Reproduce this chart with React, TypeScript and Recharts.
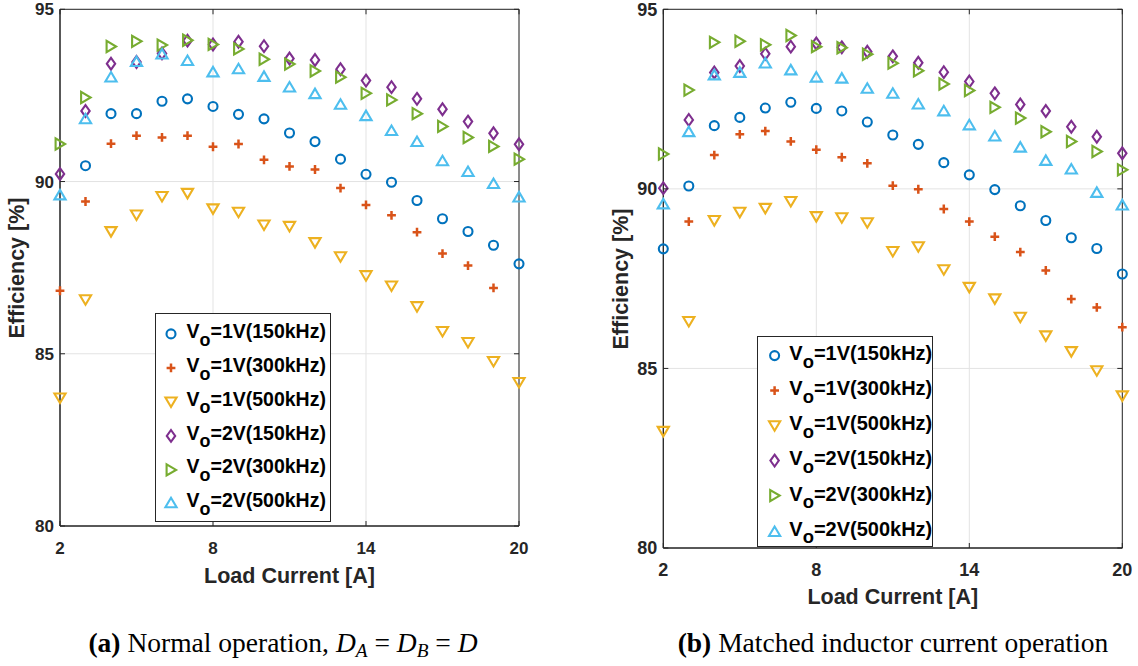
import React from 'react';
import { ScatterChart, Scatter, XAxis, YAxis, CartesianGrid, Legend, ReferenceArea } from 'recharts';

// ---------- data ----------
const loadCurrent = [2, 3, 4, 5, 6, 7, 8, 9, 10, 11, 12, 13, 14, 15, 16, 17, 18, 19, 20];
const xTicks = [2, 8, 14, 20];
const yTicks = [80, 85, 90, 95];
const seriesLabels = ['1V(150kHz)', '1V(300kHz)', '1V(500kHz)', '2V(150kHz)', '2V(300kHz)', '2V(500kHz)'];
const seriesColors = ['#0072BD', '#D95319', '#EDB120', '#7E2F8E', '#77AC30', '#4DBEEE'];
const markerKinds = ['circle', 'plus', 'down', 'diamond', 'right', 'up'];

// (a) Normal operation
const normalV1f150 = [null, 90.46, 91.97, 91.97, 92.33, 92.40, 92.18, 91.95, 91.82, 91.41, 91.16, 90.65, 90.21, 89.98, 89.45, 88.92, 88.55, 88.15, 87.61];
const normalV1f300 = [86.83, 89.42, 91.10, 91.33, 91.28, 91.33, 91.01, 91.09, 90.63, 90.44, 90.35, 89.81, 89.32, 89.02, 88.53, 87.91, 87.56, 86.91, null];
const normalV1f500 = [83.72, 86.57, 88.55, 89.03, 89.57, 89.66, 89.21, 89.11, 88.74, 88.70, 88.23, 87.82, 87.27, 86.97, 86.37, 85.65, 85.33, 84.78, 84.17];
const normalV2f150 = [90.22, 92.05, 93.42, 93.47, 93.72, 94.09, 93.98, 94.06, 93.93, 93.57, 93.53, 93.26, 92.93, 92.74, 92.40, 92.10, 91.74, 91.40, 91.08];
const normalV2f300 = [91.09, 92.44, 93.92, 94.07, 93.96, 94.10, 93.98, 93.85, 93.55, 93.41, 93.21, 93.03, 92.56, 92.37, 91.97, 91.60, 91.28, 91.02, 90.65];
const normalV2f500 = [89.61, 91.82, 93.03, 93.48, 93.70, 93.51, 93.18, 93.27, 93.05, 92.74, 92.55, 92.24, 91.91, 91.48, 91.16, 90.60, 90.29, 89.94, 89.55];

// (b) Matched inductor current operation
const matchedV1f150 = [88.33, 90.08, 91.76, 91.99, 92.25, 92.41, 92.24, 92.17, 91.86, 91.50, 91.24, 90.73, 90.39, 89.98, 89.53, 89.12, 88.64, 88.34, 87.63];
const matchedV1f300 = [null, 89.09, 90.94, 91.52, 91.61, 91.32, 91.09, 90.88, 90.71, 90.09, 89.99, 89.44, 89.09, 88.67, 88.24, 87.73, 86.93, 86.70, 86.15];
const matchedV1f500 = [83.25, 86.31, 89.12, 89.35, 89.46, 89.65, 89.23, 89.20, 89.06, 88.26, 88.39, 87.75, 87.26, 86.94, 86.43, 85.91, 85.47, 84.94, 84.24];
const matchedV2f150 = [90.02, 91.92, 93.24, 93.42, 93.76, 93.96, 94.05, 93.94, 93.82, 93.69, 93.51, 93.25, 92.99, 92.66, 92.35, 92.17, 91.73, 91.45, 90.99];
const matchedV2f300 = [90.97, 92.75, 94.08, 94.11, 94.01, 94.27, 93.96, 93.93, 93.75, 93.50, 93.29, 92.92, 92.74, 92.27, 91.97, 91.59, 91.32, 91.04, 90.53];
const matchedV2f500 = [89.58, 91.59, 93.17, 93.24, 93.50, 93.31, 93.11, 93.08, 92.80, 92.66, 92.36, 92.17, 91.78, 91.47, 91.16, 90.79, 90.55, 89.90, 89.55];

const normalSeries = [normalV1f150, normalV1f300, normalV1f500, normalV2f150, normalV2f300, normalV2f500];
const matchedSeries = [matchedV1f150, matchedV1f300, matchedV1f500, matchedV2f150, matchedV2f300, matchedV2f500];

// ---------- styling ----------
const AXIS = '#262626';
const GRID = '#e3e3e3';
const SANS = '"Liberation Sans", Arial, Helvetica, sans-serif';
const SERIF = '"Liberation Serif", "Times New Roman", serif';

function Marker({ kind, cx, cy, color }: any) {
  const sw = 2.1;
  switch (kind) {
    case 'circle':
      return <circle cx={cx} cy={cy} r={4.5} fill="none" stroke={color} strokeWidth={sw} />;
    case 'plus':
      return <path d={`M${cx - 4.4},${cy}H${cx + 4.4}M${cx},${cy - 4.4}V${cy + 4.4}`} fill="none" stroke={color} strokeWidth={2.5} />;
    case 'down':
      return <path d={`M${cx - 5.6},${cy - 4.4}L${cx + 5.6},${cy - 4.4}L${cx},${cy + 5.1}Z`} fill="none" stroke={color} strokeWidth={sw} strokeLinejoin="miter" />;
    case 'up':
      return <path d={`M${cx - 5.6},${cy + 4.4}L${cx + 5.6},${cy + 4.4}L${cx},${cy - 5.1}Z`} fill="none" stroke={color} strokeWidth={sw} strokeLinejoin="miter" />;
    case 'right':
      return <path d={`M${cx - 4.4},${cy - 5.6}L${cx - 4.4},${cy + 5.6}L${cx + 5.1},${cy}Z`} fill="none" stroke={color} strokeWidth={sw} strokeLinejoin="miter" />;
    case 'diamond':
      return <path d={`M${cx},${cy - 5.9}L${cx + 4.2},${cy}L${cx},${cy + 5.9}L${cx - 4.2},${cy}Z`} fill="none" stroke={color} strokeWidth={sw} />;
    default:
      return null;
  }
}

function toPoints(values: (number | null)[]) {
  const pts: { x: number; y: number }[] = [];
  values.forEach((v, i) => {
    if (v !== null && v !== undefined) pts.push({ x: loadCurrent[i], y: v });
  });
  return pts;
}

// plot: left edge px, right edge px, top px, bottom px (within the panel)
function Panel({ width, height, plot, series, tickFont, legend }: any) {
  const AXW = 1; // axis width/height so that recharts renders them
  const margin = {
    top: plot.top,
    left: plot.left - AXW,
    right: width - plot.right,
    bottom: height - plot.bottom - AXW,
  };
  const pw = plot.right - plot.left;
  const ph = plot.bottom - plot.top;

  const YTick = (p: any) => {
    const { x, y, payload } = p;
    return (
      <g>
        <line x1={x} x2={x + 5} y1={y} y2={y} stroke={AXIS} strokeWidth={1} />
        <line x1={x + pw - 5} x2={x + pw} y1={y} y2={y} stroke={AXIS} strokeWidth={1} />
        <text x={x - 6} y={y} dy="0.36em" textAnchor="end" fontFamily={SANS} fontWeight="bold" fontSize={tickFont} fill={AXIS}>
          {payload.value}
        </text>
      </g>
    );
  };
  const XTick = (p: any) => {
    const { x, y, payload } = p;
    return (
      <g>
        <line x1={x} x2={x} y1={y} y2={y - 5} stroke={AXIS} strokeWidth={1} />
        <line x1={x} x2={x} y1={y - ph} y2={y - ph + 5} stroke={AXIS} strokeWidth={1} />
        <text x={x} y={y + 22} dy="0.36em" textAnchor="middle" fontFamily={SANS} fontWeight="bold" fontSize={tickFont} fill={AXIS}>
          {payload.value}
        </text>
      </g>
    );
  };

  const renderLegend = () => (
    <div
      style={{
        boxSizing: 'border-box',
        width: legend.w,
        height: legend.h,
        border: `1px solid ${AXIS}`,
        background: '#fff',
        paddingTop: legend.padTop,
      }}
    >
      {seriesLabels.map((lab, i) => (
        <div key={lab} style={{ position: 'relative', height: legend.rowH }}>
          <svg width={30} height={legend.rowH} style={{ position: 'absolute', left: 0, top: 0 }}>
            <Marker kind={markerKinds[i]} cx={legend.markerX} cy={legend.rowH / 2} color={seriesColors[i]} />
          </svg>
          <div
            style={{
              position: 'absolute',
              left: legend.textX,
              top: legend.rowH / 2 - legend.font * 0.62,
              fontFamily: SANS,
              fontWeight: 'bold',
              fontSize: legend.font,
              lineHeight: 1,
              color: '#000',
              whiteSpace: 'nowrap',
            }}
          >
            V<span style={{ position: 'relative', top: '0.42em', fontSize: '0.92em' }}>o</span>={lab}
          </div>
        </div>
      ))}
    </div>
  );

  return (
    <ScatterChart width={width} height={height} margin={margin}>
      <CartesianGrid stroke={GRID} strokeWidth={1} />
      <XAxis
        type="number"
        dataKey="x"
        domain={[2, 20]}
        ticks={xTicks}
        interval={0}
        height={AXW}
        tickSize={0}
        tickMargin={0}
        tickLine={false}
        axisLine={{ stroke: AXIS, strokeWidth: 1 }}
        tick={XTick}
      />
      <YAxis
        type="number"
        dataKey="y"
        domain={[80, 95]}
        ticks={yTicks}
        interval={0}
        width={AXW}
        tickSize={0}
        tickMargin={0}
        tickLine={false}
        axisLine={{ stroke: AXIS, strokeWidth: 1 }}
        tick={YTick}
      />
      <ReferenceArea x1={2} x2={20} y1={80} y2={95} fill="none" fillOpacity={0} stroke={AXIS} strokeWidth={1} />
      {series.map((vals: any, i: number) => (
        <Scatter
          key={seriesLabels[i]}
          name={seriesLabels[i]}
          data={toPoints(vals)}
          isAnimationActive={false}
          shape={(sp: any) => <Marker kind={markerKinds[i]} cx={sp.cx} cy={sp.cy} color={seriesColors[i]} />}
        />
      ))}
      <Legend
        layout="vertical"
        align="center"
        verticalAlign="middle"
        content={renderLegend}
        wrapperStyle={{ position: 'absolute', left: legend.x, top: legend.y, width: legend.w, height: legend.h }}
      />
    </ScatterChart>
  );
}

const labelStyle: React.CSSProperties = {
  position: 'absolute',
  fontFamily: SANS,
  fontWeight: 'bold',
  fontSize: 21.5,
  color: AXIS,
  whiteSpace: 'nowrap',
  lineHeight: 1,
};

const captionStyle: React.CSSProperties = {
  position: 'absolute',
  fontFamily: SERIF,
  fontSize: 27.5,
  color: '#000',
  whiteSpace: 'nowrap',
  lineHeight: 1,
  transform: 'translate(-50%, -50%)',
};

const subStyle: React.CSSProperties = { fontSize: '0.7em', position: 'relative', top: '0.25em' };

export default function App() {
  return (
    <div style={{ position: 'absolute', left: 0, top: 0, width: 1138, height: 666, background: '#fff', overflow: 'hidden' }}>
      <div style={{ position: 'absolute', left: 0, top: 0 }}>
        <Panel
          width={560}
          height={600}
          plot={{ left: 60, right: 519, top: 9.3, bottom: 526 }}
          series={normalSeries}
          tickFont={17}
          legend={{ x: 155, y: 313, w: 176, h: 209, padTop: 3.4, rowH: 33.8, markerX: 15, textX: 30.5, font: 19.5 }}
        />
      </div>
      <div style={{ position: 'absolute', left: 600, top: 0 }}>
        <Panel
          width={538}
          height={600}
          plot={{ left: 63.3, right: 522.3, top: 9.3, bottom: 548 }}
          series={matchedSeries}
          tickFont={18}
          legend={{ x: 157, y: 336, w: 176, h: 211, padTop: 0.6, rowH: 35.2, markerX: 16.6, textX: 31.3, font: 20 }}
        />
      </div>

      <div style={{ ...labelStyle, left: 289.5, top: 577, transform: 'translate(-50%, -50%)' }}>Load Current [A]</div>
      <div style={{ ...labelStyle, left: 892.8, top: 598, transform: 'translate(-50%, -50%)' }}>Load Current [A]</div>
      <div style={{ ...labelStyle, left: 18, top: 268, transform: 'translate(-50%, -50%) rotate(-90deg)' }}>Efficiency [%]</div>
      <div style={{ ...labelStyle, left: 622, top: 278.5, transform: 'translate(-50%, -50%) rotate(-90deg)' }}>Efficiency [%]</div>

      <div style={{ ...captionStyle, left: 283, top: 643 }}>
        <b>(a)</b> Normal operation, <i>D</i>
        <span style={subStyle}>
          <i>A</i>
        </span>{' '}
        = <i>D</i>
        <span style={subStyle}>
          <i>B</i>
        </span>{' '}
        = <i>D</i>
      </div>
      <div style={{ ...captionStyle, left: 893, top: 643 }}>
        <b>(b)</b> Matched inductor current operation
      </div>
    </div>
  );
}
